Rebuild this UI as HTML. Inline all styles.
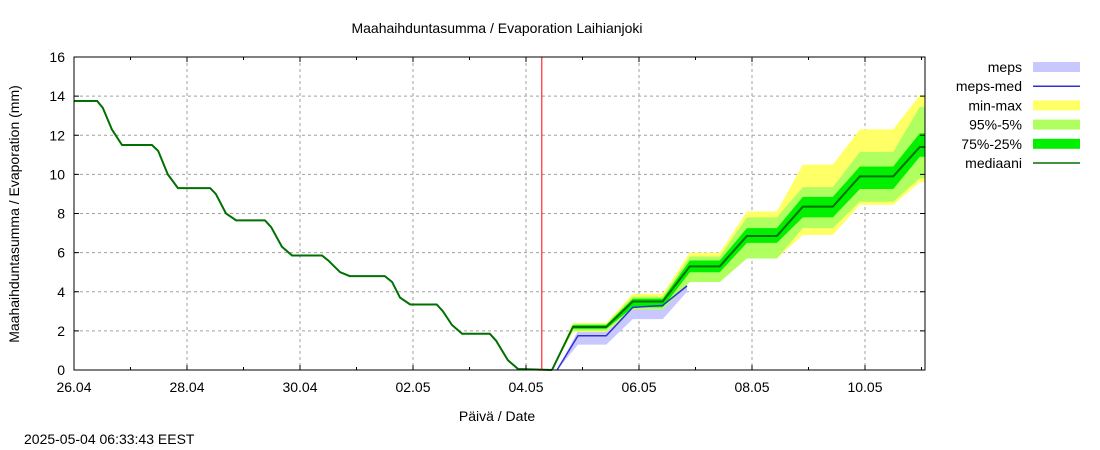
<!DOCTYPE html>
<html><head><meta charset="utf-8"><style>
body{margin:0;background:#fff;}
svg{display:block;font-family:"Liberation Sans",sans-serif;}
</style></head><body>
<svg id="chart" width="1100" height="450" xmlns="http://www.w3.org/2000/svg">
<rect width="1100" height="450" fill="#fff"/>
<text x="497" y="33" font-size="14" text-anchor="middle" fill="#000">Maahaihduntasumma / Evaporation   Laihianjoki</text>
<g id="grid"></g>
<g id="bands"></g>
<g id="lines"></g>
<g id="axes"></g>
<text x="497" y="421" font-size="14" text-anchor="middle">Päivä / Date</text>
<text transform="translate(19,214) rotate(-90)" font-size="14" text-anchor="middle">Maahaihduntasumma / Evaporation (mm)</text>
<text x="24" y="444" font-size="14">2025-05-04 06:33:43 EEST</text>
<g id="legend"></g>
</svg>
<script>
const yTicks=[0,2,4,6,8,10,12,14,16];
const xTickLabels=["26.04","28.04","30.04","02.05","04.05","06.05","08.05","10.05"];
const xTickDays=[0,2,4,6,8,10,12,14];
const nowDay=8.28;
const histDays=[0,0.41,0.51,0.67,0.85,1.38,1.49,1.66,1.84,2.41,2.51,2.69,2.87,3.38,3.49,3.68,3.86,4.39,4.50,4.71,4.88,5.50,5.63,5.77,5.95,6.42,6.53,6.69,6.87,7.36,7.47,7.68,7.86,8.46];
const histVals=[13.75,13.75,13.4,12.3,11.5,11.5,11.2,10.0,9.3,9.3,9.0,8.0,7.65,7.65,7.3,6.3,5.85,5.85,5.6,5.0,4.8,4.8,4.5,3.7,3.35,3.35,3.0,2.3,1.85,1.85,1.5,0.5,0.05,0];
const fcDays=[8.46,8.83,9.42,9.89,10.42,10.90,11.43,11.91,12.44,12.90,13.43,13.91,14.50,14.97,15.06];
const fcMed=[0,2.2,2.2,3.5,3.5,5.3,5.3,6.85,6.85,8.35,8.35,9.9,9.9,11.4,11.4];
const fcMax=[0,2.4,2.4,3.9,3.9,6.0,6.0,8.1,8.1,10.5,10.5,12.3,12.3,14.05,14.05];
const fcP95=[0,2.35,2.35,3.75,3.75,5.8,5.8,7.8,7.8,9.35,9.35,11.15,11.15,13.45,13.45];
const fcP75=[0,2.3,2.3,3.65,3.65,5.6,5.6,7.25,7.25,8.85,8.85,10.4,10.4,12.1,12.1];
const fcP25=[0,2.1,2.1,3.2,3.2,5.0,5.0,6.5,6.5,7.8,7.8,9.25,9.25,10.9,10.9];
const fcP05=[0,2.0,2.0,3.1,3.1,4.5,4.5,5.7,5.7,7.25,7.25,8.6,8.6,9.8,9.8];
const fcMin=[0,1.95,1.95,3.1,3.1,4.5,4.5,5.7,5.7,6.9,6.9,8.45,8.45,9.6,9.6];
const mepsDays=[8.55,8.92,9.42,9.89,10.42,10.85];
const mepsLo=[0,1.3,1.3,2.6,2.6,4.0];
const mepsHi=[0,2.0,2.0,3.6,3.6,4.6];
const mepsMed=[0,1.75,1.75,3.2,3.3,4.3];

const X0=74,X1=925,Y0=370,Y1=57,PXD=56.5;
const xs=d=>X0+d*PXD;
const ys=v=>Y0-(v/16)*(Y0-Y1);
const NS="http://www.w3.org/2000/svg";
function mk(tag,parent,attrs){const e=document.createElementNS(NS,tag);for(const k in attrs)e.setAttribute(k,attrs[k]);document.getElementById(parent).appendChild(e);return e;}
// grid
yTicks.forEach(v=>{if(v>0&&v<16){const l=mk('line','grid',{x1:X0,x2:X1,y1:ys(v),y2:ys(v),stroke:'#a0a0a0','stroke-dasharray':'3,3'});

}});
xTickDays.forEach(d=>{if(d>0){const l=mk('line','grid',{x1:xs(d),x2:xs(d),y1:Y1,y2:Y0,stroke:'#a0a0a0','stroke-dasharray':'3,3'});

}});
function band(days,lo,hi,col,name){let p='';days.forEach((d,i)=>p+=(i?'L':'M')+xs(d)+','+ys(hi[i]));for(let i=days.length-1;i>=0;i--)p+='L'+xs(days[i])+','+ys(lo[i]);
const e=mk('path','bands',{d:p+'Z',fill:col});

}
band(mepsDays,mepsLo,mepsHi,'#c8c8ff','meps-band');
band(fcDays,fcMin,fcMax,'#ffff66','min-max-band');
band(fcDays,fcP05,fcP95,'#b0ff60','p95-p5-band');
band(fcDays,fcP25,fcP75,'#00f000','p75-p25-band');
function line(days,vals,col,w,name){const e=mk('polyline','lines',{points:days.map((d,i)=>xs(d)+','+ys(vals[i])).join(' '),fill:'none',stroke:col,'stroke-width':w});

}
line(mepsDays,mepsMed,'#3030d0',1.5,'meps-median-line');
line(histDays,histVals,'#007000',2,'history-median-line');
line(fcDays,fcMed,'#007000',2,'forecast-median-line');
const nl=mk('line','lines',{x1:xs(nowDay),x2:xs(nowDay),y1:Y1,y2:Y0,stroke:'#ff0000','stroke-width':1});


// axes
const fr=mk('rect','axes',{x:X0,y:Y1,width:X1-X0,height:Y0-Y1,fill:'none',stroke:'#000'});


yTicks.forEach(v=>{mk('line','axes',{x1:X0,x2:X0+5,y1:ys(v),y2:ys(v),stroke:'#000'});mk('line','axes',{x1:X1-5,x2:X1,y1:ys(v),y2:ys(v),stroke:'#000'});
const t=mk('text','axes',{x:X0-9,y:ys(v)+5,'font-size':14,'text-anchor':'end'});t.textContent=v;

});
for(let d=0;d<=15;d++){mk('line','axes',{x1:xs(d),x2:xs(d),y1:Y0,y2:Y0-(d%2?3:5),stroke:'#000'});mk('line','axes',{x1:xs(d),x2:xs(d),y1:Y1,y2:Y1+(d%2?3:5),stroke:'#000'});}
xTickDays.forEach((d,i)=>{const t=mk('text','axes',{x:xs(d),y:392,'font-size':14,'text-anchor':'middle'});t.textContent=xTickLabels[i];

});
// legend
const legNames=["meps","meps-med","min-max","95%-5%","75%-25%","mediaani"];
const legCols=["#c8c8ff","#3030d0","#ffff66","#b0ff60","#00f000","#007000"];
const legType=["box","line","box","box","box","line"];
legNames.forEach((n,i)=>{const y=67+i*19.2;
const t=mk('text','legend',{x:1022,y:y+5,'font-size':14,'text-anchor':'end'});t.textContent=n;


const s=legType[i]=='box'?mk('rect','legend',{x:1033,y:y-5,width:47,height:10,fill:legCols[i]}):mk('line','legend',{x1:1033,x2:1080,y1:y,y2:y,stroke:legCols[i],'stroke-width':1.5});

});
</script>
</body></html>
